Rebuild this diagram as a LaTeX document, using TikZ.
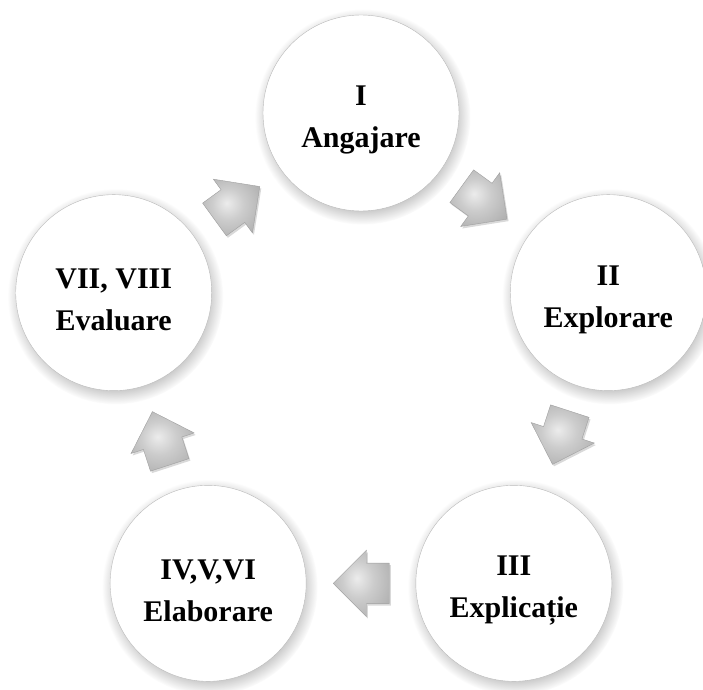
\documentclass[tikz,border=0pt]{standalone}
\usepackage{fontspec}
\setmainfont{Liberation Serif}
\usetikzlibrary{shapes,shapes.arrows,shadows,calc}
\pgfdeclareradialshading{phaseball}{\pgfpoint{-6bp}{9bp}}{color(0bp)=(white); color(34bp)=(white); color(48bp)=(gray!12); color(58bp)=(gray!55)}
\pgfdeclareradialshading{bevel}{\pgfpoint{-4bp}{4bp}}{color(0bp)=(gray!15); color(14bp)=(gray!40); color(30bp)=(gray!60); color(50bp)=(gray!72)}
\tikzset{
phase/.style={
	% The shape:
	circle,
	% The size:
	minimum size=196pt,
	% The border:
	draw=gray!55,
	thin,
	% The filling:
	% white in the middle, a little grey at the rim
	shade,
	shading=phaseball,
	% The shadow below:
	circular drop shadow={shadow xshift=1.5pt,shadow yshift=-3.5pt,opacity=.45},
	% the text sits a little below the middle
	label={[phase text]center:#1}
},
phase text/.style={
	% Font
	font=\bfseries\fontsize{30}{42}\selectfont,
	align=center,
	yshift=-7pt
},
turn/.style={
	% The shape:
	single arrow,
	single arrow head extend=13pt,
	anchor=tip,
	% The size:
	minimum height=56pt,
	inner xsep=0pt,
	inner ysep=20pt,
	% The border:
	draw=gray!75,
	% The filling:
	shade,
	shading=bevel,
	% The shadow below:
	drop shadow={shadow xshift=1.5pt,shadow yshift=-2pt,opacity=.3}
}
}

\begin{document}
\begin{tikzpicture}[x=1pt,y=1pt]
			\useasboundingbox (-361,-316) rectangle (342,373);
			\node[phase={I\\Angajare}] (ang) at (90:260) {};
			\node[phase={II\\Explorare}] (expr) at (18:260) {};
			\node[phase={III\\Explicație}] (expl) at (-54:260) {};
			\node[phase={IV,V,VI\\Elaborare}] (ela) at (-126:260) {};
			\node[phase={VII, VIII\\Evaluare}] (eva) at (162:260) {};

			% the arrows sit half way, tip forward
			\node[turn,rotate=-36] (t1) at ($(ang)!.5!(expr)!28pt!(expr)$) {};
			\node[turn,rotate=-108] (t2) at ($(expr)!.5!(expl)!28pt!(expl)$) {};
			\node[turn,rotate=180] (t3) at ($(expl)!.5!(ela)!28pt!(ela)$) {};
			\node[turn,rotate=108] (t4) at ($(ela)!.5!(eva)!28pt!(eva)$) {};
			\node[turn,rotate=36] (t5) at ($(eva)!.5!(ang)!28pt!(ang)$) {};
		\end{tikzpicture}
\end{document}
